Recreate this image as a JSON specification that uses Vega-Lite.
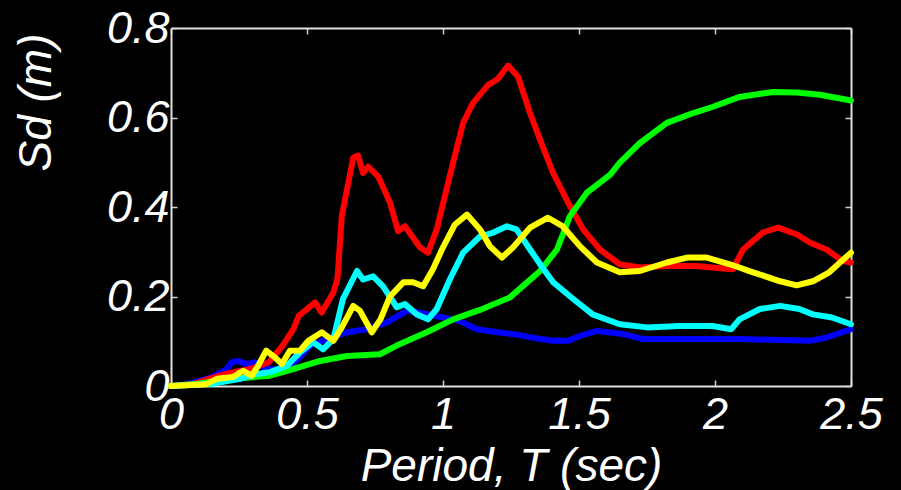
{
  "$schema": "https://vega.github.io/schema/vega-lite/v6.json",
  "width": 680,
  "height": 358,
  "autosize": {"type": "none"},
  "padding": {"left": 171, "top": 28, "right": 50, "bottom": 104},
  "background": "black",
  "config": {
    "view": {"stroke": null},
    "axis": {
      "grid": false,
      "labelFont": "Liberation Sans",
      "labelFontStyle": "italic",
      "labelFontSize": 45,
      "labelColor": "white",
      "titleFont": "Liberation Sans",
      "titleFontStyle": "italic",
      "titleFontWeight": "normal",
      "titleFontSize": 46,
      "titleColor": "white",
      "tickSize": -6,
      "tickColor": "#d0d0d0",
      "tickWidth": 1.5,
      "domainColor": "#e0e0e0",
      "domainWidth": 2,
      "labelOverlap": false,
      "labelFlush": false,
      "labelBound": false
    }
  },
  "data": {
    "values": [
      {"s":"blue","T":0,"Sd":0},{"s":"blue","T":0.05,"Sd":0.003},{"s":"blue","T":0.107,"Sd":0.012},{"s":"blue","T":0.15,"Sd":0.02},{"s":"blue","T":0.205,"Sd":0.038},{"s":"blue","T":0.223,"Sd":0.053},{"s":"blue","T":0.246,"Sd":0.056},{"s":"blue","T":0.278,"Sd":0.049},{"s":"blue","T":0.308,"Sd":0.053},{"s":"blue","T":0.35,"Sd":0.038},{"s":"blue","T":0.426,"Sd":0.038},{"s":"blue","T":0.474,"Sd":0.064},{"s":"blue","T":0.51,"Sd":0.09},{"s":"blue","T":0.573,"Sd":0.105},{"s":"blue","T":0.647,"Sd":0.12},{"s":"blue","T":0.72,"Sd":0.127},{"s":"blue","T":0.794,"Sd":0.142},{"s":"blue","T":0.867,"Sd":0.168},{"s":"blue","T":0.915,"Sd":0.164},{"s":"blue","T":1.0,"Sd":0.153},{"s":"blue","T":1.062,"Sd":0.145},{"s":"blue","T":1.124,"Sd":0.127},{"s":"blue","T":1.2,"Sd":0.12},{"s":"blue","T":1.258,"Sd":0.116},{"s":"blue","T":1.33,"Sd":0.108},{"s":"blue","T":1.405,"Sd":0.101},{"s":"blue","T":1.46,"Sd":0.101},{"s":"blue","T":1.504,"Sd":0.112},{"s":"blue","T":1.566,"Sd":0.123},{"s":"blue","T":1.663,"Sd":0.116},{"s":"blue","T":1.735,"Sd":0.105},{"s":"blue","T":1.87,"Sd":0.105},{"s":"blue","T":2.09,"Sd":0.105},{"s":"blue","T":2.35,"Sd":0.101},{"s":"blue","T":2.41,"Sd":0.108},{"s":"blue","T":2.5,"Sd":0.127},
      {"s":"red","T":0,"Sd":0},{"s":"red","T":0.08,"Sd":0.004},{"s":"red","T":0.14,"Sd":0.016},{"s":"red","T":0.2,"Sd":0.027},{"s":"red","T":0.29,"Sd":0.038},{"s":"red","T":0.36,"Sd":0.053},{"s":"red","T":0.41,"Sd":0.09},{"s":"red","T":0.45,"Sd":0.127},{"s":"red","T":0.47,"Sd":0.157},{"s":"red","T":0.53,"Sd":0.187},{"s":"red","T":0.554,"Sd":0.164},{"s":"red","T":0.597,"Sd":0.209},{"s":"red","T":0.612,"Sd":0.24},{"s":"red","T":0.628,"Sd":0.38},{"s":"red","T":0.67,"Sd":0.51},{"s":"red","T":0.688,"Sd":0.515},{"s":"red","T":0.706,"Sd":0.476},{"s":"red","T":0.725,"Sd":0.49},{"s":"red","T":0.762,"Sd":0.468},{"s":"red","T":0.805,"Sd":0.41},{"s":"red","T":0.835,"Sd":0.346},{"s":"red","T":0.86,"Sd":0.357},{"s":"red","T":0.915,"Sd":0.31},{"s":"red","T":0.945,"Sd":0.298},{"s":"red","T":0.977,"Sd":0.35},{"s":"red","T":1.037,"Sd":0.499},{"s":"red","T":1.074,"Sd":0.588},{"s":"red","T":1.11,"Sd":0.632},{"s":"red","T":1.166,"Sd":0.673},{"s":"red","T":1.2,"Sd":0.685},{"s":"red","T":1.239,"Sd":0.716},{"s":"red","T":1.276,"Sd":0.691},{"s":"red","T":1.32,"Sd":0.61},{"s":"red","T":1.357,"Sd":0.55},{"s":"red","T":1.405,"Sd":0.476},{"s":"red","T":1.46,"Sd":0.41},{"s":"red","T":1.515,"Sd":0.35},{"s":"red","T":1.577,"Sd":0.305},{"s":"red","T":1.65,"Sd":0.272},{"s":"red","T":1.724,"Sd":0.265},{"s":"red","T":1.823,"Sd":0.268},{"s":"red","T":1.93,"Sd":0.268},{"s":"red","T":1.99,"Sd":0.265},{"s":"red","T":2.066,"Sd":0.261},{"s":"red","T":2.103,"Sd":0.305},{"s":"red","T":2.176,"Sd":0.343},{"s":"red","T":2.232,"Sd":0.354},{"s":"red","T":2.3,"Sd":0.339},{"s":"red","T":2.35,"Sd":0.32},{"s":"red","T":2.41,"Sd":0.305},{"s":"red","T":2.47,"Sd":0.279},{"s":"red","T":2.5,"Sd":0.276},
      {"s":"green","T":0,"Sd":0},{"s":"green","T":0.1,"Sd":0.005},{"s":"green","T":0.205,"Sd":0.015},{"s":"green","T":0.364,"Sd":0.023},{"s":"green","T":0.45,"Sd":0.038},{"s":"green","T":0.548,"Sd":0.056},{"s":"green","T":0.647,"Sd":0.067},{"s":"green","T":0.768,"Sd":0.071},{"s":"green","T":0.842,"Sd":0.094},{"s":"green","T":0.94,"Sd":0.12},{"s":"green","T":1.037,"Sd":0.149},{"s":"green","T":1.136,"Sd":0.17},{"s":"green","T":1.246,"Sd":0.198},{"s":"green","T":1.357,"Sd":0.257},{"s":"green","T":1.419,"Sd":0.305},{"s":"green","T":1.467,"Sd":0.38},{"s":"green","T":1.529,"Sd":0.432},{"s":"green","T":1.614,"Sd":0.472},{"s":"green","T":1.65,"Sd":0.499},{"s":"green","T":1.724,"Sd":0.543},{"s":"green","T":1.823,"Sd":0.588},{"s":"green","T":1.92,"Sd":0.61},{"s":"green","T":1.993,"Sd":0.624},{"s":"green","T":2.09,"Sd":0.646},{"s":"green","T":2.213,"Sd":0.657},{"s":"green","T":2.3,"Sd":0.656},{"s":"green","T":2.386,"Sd":0.651},{"s":"green","T":2.5,"Sd":0.638},
      {"s":"cyan","T":0,"Sd":0},{"s":"cyan","T":0.15,"Sd":0.005},{"s":"cyan","T":0.254,"Sd":0.016},{"s":"cyan","T":0.316,"Sd":0.027},{"s":"cyan","T":0.364,"Sd":0.031},{"s":"cyan","T":0.426,"Sd":0.045},{"s":"cyan","T":0.474,"Sd":0.075},{"s":"cyan","T":0.522,"Sd":0.098},{"s":"cyan","T":0.559,"Sd":0.082},{"s":"cyan","T":0.597,"Sd":0.105},{"s":"cyan","T":0.632,"Sd":0.194},{"s":"cyan","T":0.684,"Sd":0.257},{"s":"cyan","T":0.706,"Sd":0.238},{"s":"cyan","T":0.743,"Sd":0.245},{"s":"cyan","T":0.779,"Sd":0.223},{"s":"cyan","T":0.83,"Sd":0.176},{"s":"cyan","T":0.86,"Sd":0.183},{"s":"cyan","T":0.904,"Sd":0.16},{"s":"cyan","T":0.945,"Sd":0.149},{"s":"cyan","T":0.977,"Sd":0.172},{"s":"cyan","T":1.025,"Sd":0.238},{"s":"cyan","T":1.074,"Sd":0.298},{"s":"cyan","T":1.136,"Sd":0.334},{"s":"cyan","T":1.185,"Sd":0.343},{"s":"cyan","T":1.235,"Sd":0.357},{"s":"cyan","T":1.27,"Sd":0.35},{"s":"cyan","T":1.32,"Sd":0.305},{"s":"cyan","T":1.37,"Sd":0.261},{"s":"cyan","T":1.405,"Sd":0.232},{"s":"cyan","T":1.48,"Sd":0.194},{"s":"cyan","T":1.55,"Sd":0.16},{"s":"cyan","T":1.65,"Sd":0.138},{"s":"cyan","T":1.75,"Sd":0.131},{"s":"cyan","T":1.87,"Sd":0.134},{"s":"cyan","T":1.99,"Sd":0.134},{"s":"cyan","T":2.06,"Sd":0.127},{"s":"cyan","T":2.09,"Sd":0.149},{"s":"cyan","T":2.165,"Sd":0.172},{"s":"cyan","T":2.24,"Sd":0.179},{"s":"cyan","T":2.31,"Sd":0.172},{"s":"cyan","T":2.36,"Sd":0.16},{"s":"cyan","T":2.43,"Sd":0.153},{"s":"cyan","T":2.5,"Sd":0.138},
      {"s":"yellow","T":0,"Sd":0},{"s":"yellow","T":0.13,"Sd":0.004},{"s":"yellow","T":0.168,"Sd":0.016},{"s":"yellow","T":0.228,"Sd":0.02},{"s":"yellow","T":0.265,"Sd":0.034},{"s":"yellow","T":0.297,"Sd":0.023},{"s":"yellow","T":0.32,"Sd":0.045},{"s":"yellow","T":0.35,"Sd":0.079},{"s":"yellow","T":0.382,"Sd":0.064},{"s":"yellow","T":0.408,"Sd":0.049},{"s":"yellow","T":0.437,"Sd":0.079},{"s":"yellow","T":0.474,"Sd":0.079},{"s":"yellow","T":0.505,"Sd":0.101},{"s":"yellow","T":0.555,"Sd":0.12},{"s":"yellow","T":0.597,"Sd":0.101},{"s":"yellow","T":0.628,"Sd":0.131},{"s":"yellow","T":0.67,"Sd":0.179},{"s":"yellow","T":0.695,"Sd":0.168},{"s":"yellow","T":0.738,"Sd":0.12},{"s":"yellow","T":0.77,"Sd":0.149},{"s":"yellow","T":0.805,"Sd":0.2},{"s":"yellow","T":0.855,"Sd":0.232},{"s":"yellow","T":0.89,"Sd":0.232},{"s":"yellow","T":0.927,"Sd":0.223},{"s":"yellow","T":0.963,"Sd":0.261},{"s":"yellow","T":1.0,"Sd":0.31},{"s":"yellow","T":1.044,"Sd":0.361},{"s":"yellow","T":1.088,"Sd":0.383},{"s":"yellow","T":1.136,"Sd":0.35},{"s":"yellow","T":1.173,"Sd":0.312},{"s":"yellow","T":1.217,"Sd":0.287},{"s":"yellow","T":1.258,"Sd":0.31},{"s":"yellow","T":1.32,"Sd":0.354},{"s":"yellow","T":1.386,"Sd":0.376},{"s":"yellow","T":1.44,"Sd":0.357},{"s":"yellow","T":1.504,"Sd":0.312},{"s":"yellow","T":1.566,"Sd":0.276},{"s":"yellow","T":1.65,"Sd":0.254},{"s":"yellow","T":1.724,"Sd":0.257},{"s":"yellow","T":1.823,"Sd":0.276},{"s":"yellow","T":1.897,"Sd":0.287},{"s":"yellow","T":1.97,"Sd":0.287},{"s":"yellow","T":2.055,"Sd":0.272},{"s":"yellow","T":2.14,"Sd":0.254},{"s":"yellow","T":2.24,"Sd":0.234},{"s":"yellow","T":2.3,"Sd":0.225},{"s":"yellow","T":2.36,"Sd":0.234},{"s":"yellow","T":2.42,"Sd":0.254},{"s":"yellow","T":2.5,"Sd":0.298}
    ]
  },
  "layer": [
    {
      "encoding": {
        "x": {"field": "T", "type": "quantitative", "scale": {"domain": [0, 2.5], "nice": false, "zero": false},
          "axis": {"values": [0, 0.5, 1, 1.5, 2, 2.5], "labelExpr": "'' + datum.value", "labelPadding": 12, "title": "Period, T (sec)", "titleY": 94, "titleBaseline": "alphabetic"}},
        "y": {"field": "Sd", "type": "quantitative", "scale": {"domain": [0, 0.8], "nice": false, "zero": false},
          "axis": {"values": [0, 0.2, 0.4, 0.6, 0.8], "labelExpr": "'' + datum.value", "labelPadding": 8, "title": "Sd (m)", "titleAnchor": "end", "titleX": -121, "titleY": 5, "titleBaseline": "alphabetic"}}
      },
      "layer": [
        {"transform": [{"filter": "datum.s === 'blue'"}], "mark": {"type": "line", "color": "#0000ff", "strokeWidth": 6, "strokeJoin": "round", "strokeCap": "round"}},
        {"transform": [{"filter": "datum.s === 'red'"}], "mark": {"type": "line", "color": "#ff0000", "strokeWidth": 6, "strokeJoin": "round", "strokeCap": "round"}},
        {"transform": [{"filter": "datum.s === 'green'"}], "mark": {"type": "line", "color": "#00ff00", "strokeWidth": 6, "strokeJoin": "round", "strokeCap": "round"}},
        {"transform": [{"filter": "datum.s === 'cyan'"}], "mark": {"type": "line", "color": "#00ffff", "strokeWidth": 6, "strokeJoin": "round", "strokeCap": "round"}},
        {"transform": [{"filter": "datum.s === 'yellow'"}], "mark": {"type": "line", "color": "#ffff00", "strokeWidth": 6, "strokeJoin": "round", "strokeCap": "round"}}
      ]
    },
    {
      "transform": [{"filter": "datum.s === 'blue'"}],
      "mark": {"type": "line", "opacity": 0},
      "encoding": {
        "x": {"field": "T", "type": "quantitative", "axis": {"orient": "top", "values": [0, 0.5, 1, 1.5, 2, 2.5], "labels": false, "title": null}},
        "y": {"field": "Sd", "type": "quantitative", "axis": {"orient": "right", "values": [0, 0.2, 0.4, 0.6, 0.8], "labels": false, "title": null}}
      }
    }
  ],
  "resolve": {"axis": {"x": "independent", "y": "independent"}}
}
